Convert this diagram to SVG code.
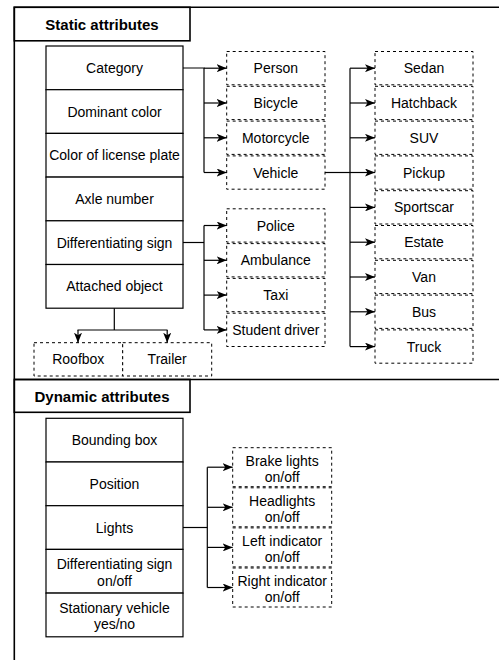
<svg xmlns="http://www.w3.org/2000/svg" width="499" height="660" viewBox="0 0 499 660">
<style>
text{font-family:"Liberation Sans",Arial,Helvetica,sans-serif;font-size:14px;fill:#000;text-anchor:middle}
.hdr{font-weight:bold;font-size:15px}
.frame{fill:none;stroke:#000;stroke-width:1.6}
.cell{fill:#fff;stroke:#000;stroke-width:1.2}
.dash{fill:#fff;stroke:#000;stroke-width:1;stroke-dasharray:3 3}
.conn{fill:none;stroke:#000;stroke-width:1.2}
.arr{marker-end:url(#ah)}
</style>
<defs>
<marker id="ah" viewBox="0 0 10 8" refX="10" refY="4" markerWidth="10" markerHeight="8" markerUnits="userSpaceOnUse" orient="auto">
<path d="M0,0 L10,4 L0,8 L2.5,4 Z" fill="#000"/>
</marker>
</defs>
<rect width="499" height="660" fill="#fff"/>

<g id="frame">
<path class="frame" d="M505,7.3 H14.3 V670"/>
<path class="frame" d="M14.3,379.5 H505"/>
</g>

<g id="static-header">
<rect class="frame" x="14.3" y="7.3" width="175.7" height="33.5" fill="#fff"/>
<text class="hdr" x="102" y="29.5">Static attributes</text>
</g>

<g id="static-attributes">
<rect class="cell" x="46" y="46" width="137" height="43.7"/>
<text x="114.5" y="73">Category</text>
<rect class="cell" x="46" y="89.7" width="137" height="43.7"/>
<text x="114.5" y="116.5">Dominant color</text>
<rect class="cell" x="46" y="133.4" width="137" height="43.7"/>
<text x="114.5" y="160.3">Color of license plate</text>
<rect class="cell" x="46" y="177.1" width="137" height="43.7"/>
<text x="114.5" y="204">Axle number</text>
<rect class="cell" x="46" y="220.8" width="137" height="43.7"/>
<text x="114.5" y="247.7">Differentiating sign</text>
<rect class="cell" x="46" y="264.5" width="137" height="43.7"/>
<text x="114.5" y="291.4">Attached object</text>
</g>

<g id="category-values">
<rect class="dash" x="226.7" y="51.5" width="98.3" height="33.3"/>
<text x="275.8" y="73.2">Person</text>
<rect class="dash" x="226.7" y="86.3" width="98.3" height="33.3"/>
<text x="275.8" y="108">Bicycle</text>
<rect class="dash" x="226.7" y="121.1" width="98.3" height="33.3"/>
<text x="275.8" y="142.8">Motorcycle</text>
<rect class="dash" x="226.7" y="155.9" width="98.3" height="33.3"/>
<text x="275.8" y="177.6">Vehicle</text>
</g>

<g id="vehicle-types">
<rect class="dash" x="375" y="51.5" width="98" height="33.3"/>
<text x="424" y="73.2">Sedan</text>
<rect class="dash" x="375" y="86.3" width="98" height="33.3"/>
<text x="424" y="108">Hatchback</text>
<rect class="dash" x="375" y="121.1" width="98" height="33.3"/>
<text x="424" y="142.8">SUV</text>
<rect class="dash" x="375" y="155.9" width="98" height="33.3"/>
<text x="424" y="177.6">Pickup</text>
<rect class="dash" x="375" y="190.7" width="98" height="33.3"/>
<text x="424" y="212.4">Sportscar</text>
<rect class="dash" x="375" y="225.5" width="98" height="33.3"/>
<text x="424" y="247.2">Estate</text>
<rect class="dash" x="375" y="260.3" width="98" height="33.3"/>
<text x="424" y="282">Van</text>
<rect class="dash" x="375" y="295.1" width="98" height="33.3"/>
<text x="424" y="316.8">Bus</text>
<rect class="dash" x="375" y="329.9" width="98" height="33.3"/>
<text x="424" y="351.6">Truck</text>
</g>

<g id="sign-values">
<rect class="dash" x="226.7" y="208.8" width="98.3" height="33.3"/>
<text x="275.8" y="230.5">Police</text>
<rect class="dash" x="226.7" y="243.6" width="98.3" height="33.3"/>
<text x="275.8" y="265.3">Ambulance</text>
<rect class="dash" x="226.7" y="278.4" width="98.3" height="33.3"/>
<text x="275.8" y="300.1">Taxi</text>
<rect class="dash" x="226.7" y="313.2" width="98.3" height="33.3"/>
<text x="275.8" y="334.9">Student driver</text>
</g>

<g id="attached-values">
<rect class="dash" x="34" y="342.7" width="88.7" height="33.3"/>
<text x="78.3" y="364.4">Roofbox</text>
<rect class="dash" x="122.7" y="342.7" width="89" height="33.3"/>
<text x="167.2" y="364.4">Trailer</text>
</g>

<g id="dynamic-header">
<rect class="frame" x="14.3" y="379.5" width="175.7" height="32.8" fill="#fff"/>
<text class="hdr" x="102" y="401.5">Dynamic attributes</text>
</g>

<g id="dynamic-attributes">
<rect class="cell" x="46" y="418.3" width="137" height="43.7"/>
<text x="114.5" y="445.2">Bounding box</text>
<rect class="cell" x="46" y="462" width="137" height="43.7"/>
<text x="114.5" y="488.9">Position</text>
<rect class="cell" x="46" y="505.7" width="137" height="43.7"/>
<text x="114.5" y="532.6">Lights</text>
<rect class="cell" x="46" y="549.4" width="137" height="43.7"/>
<text x="114.5" y="569">Differentiating sign</text>
<text x="114.5" y="585.5">on/off</text>
<rect class="cell" x="46" y="593.1" width="137" height="43.7"/>
<text x="114.5" y="612.7">Stationary vehicle</text>
<text x="114.5" y="629.2">yes/no</text>
</g>

<g id="light-values">
<rect class="dash" x="232.7" y="447.7" width="99" height="39"/>
<text x="282.2" y="465.5">Brake lights</text>
<text x="282.2" y="482">on/off</text>
<rect class="dash" x="232.7" y="487.8" width="99" height="39"/>
<text x="282.2" y="505.6">Headlights</text>
<text x="282.2" y="522.1">on/off</text>
<rect class="dash" x="232.7" y="527.9" width="99" height="39"/>
<text x="282.2" y="545.7">Left indicator</text>
<text x="282.2" y="562.2">on/off</text>
<rect class="dash" x="232.7" y="568" width="99" height="39"/>
<text x="282.2" y="585.8">Right indicator</text>
<text x="282.2" y="602.3">on/off</text>
</g>

<g id="connectors">
<path class="conn" d="M183,68 H204 V172.5"/>
<path class="conn arr" d="M204,68.2 H226.7"/>
<path class="conn arr" d="M204,103 H226.7"/>
<path class="conn arr" d="M204,137.8 H226.7"/>
<path class="conn arr" d="M204,172.5 H226.7"/>

<path class="conn" d="M183,242.5 H204"/>
<path class="conn" d="M204,225.5 V329.9"/>
<path class="conn arr" d="M204,225.5 H226.7"/>
<path class="conn arr" d="M204,260.3 H226.7"/>
<path class="conn arr" d="M204,295.1 H226.7"/>
<path class="conn arr" d="M204,329.9 H226.7"/>

<path class="conn" d="M325,172.5 H350"/>
<path class="conn" d="M350,68.2 V346.6"/>
<path class="conn arr" d="M350,68.2 H375"/>
<path class="conn arr" d="M350,103 H375"/>
<path class="conn arr" d="M350,137.8 H375"/>
<path class="conn arr" d="M350,172.5 H375"/>
<path class="conn arr" d="M350,207.4 H375"/>
<path class="conn arr" d="M350,242.2 H375"/>
<path class="conn arr" d="M350,277 H375"/>
<path class="conn arr" d="M350,311.8 H375"/>
<path class="conn arr" d="M350,346.6 H375"/>

<path class="conn" d="M114.3,308.2 V330 M77.5,330 H167.5"/>
<path class="conn arr" d="M78,330 V342.7"/>
<path class="conn arr" d="M167.2,330 V342.7"/>

<path class="conn" d="M183,527.5 H207.3"/>
<path class="conn" d="M207.3,467.2 V587.5"/>
<path class="conn arr" d="M207.3,467.2 H232.7"/>
<path class="conn arr" d="M207.3,507.3 H232.7"/>
<path class="conn arr" d="M207.3,547.4 H232.7"/>
<path class="conn arr" d="M207.3,587.5 H232.7"/>
</g>
</svg>
